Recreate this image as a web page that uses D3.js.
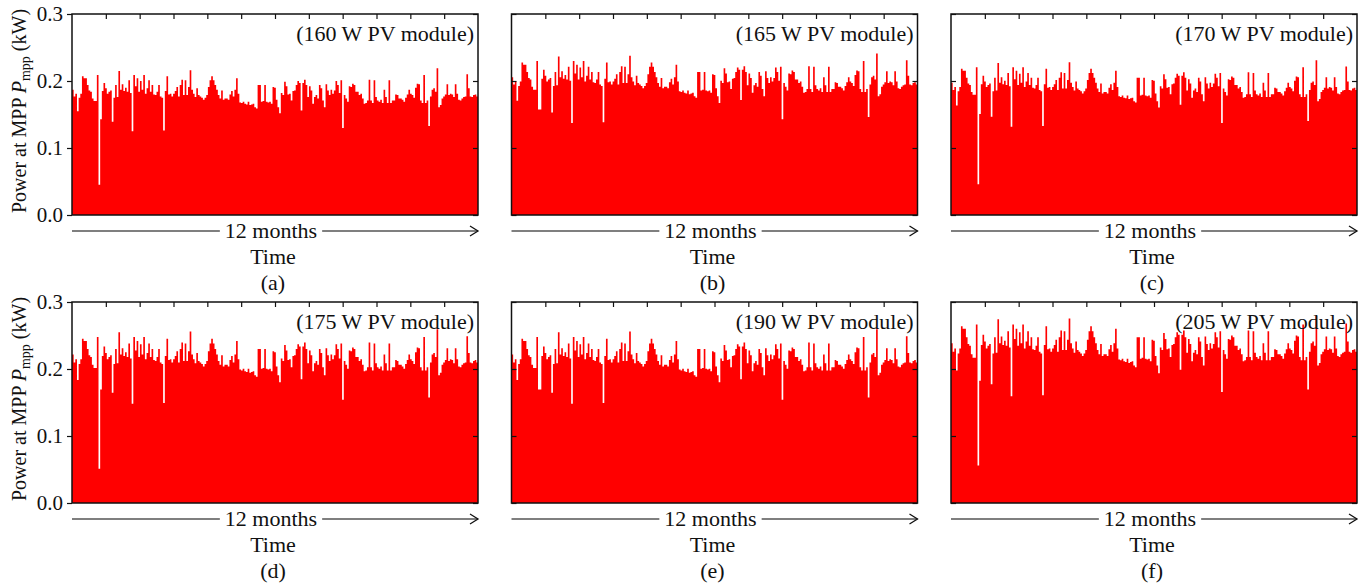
<!DOCTYPE html>
<html>
<head>
<meta charset="utf-8">
<script src="https://cdn.jsdelivr.net/npm/d3@7/dist/d3.min.js"></script>
<style>
  body { margin: 0; background: #fff; }
  text { font-family: "Liberation Serif", "Times New Roman", serif; fill: #111; }
</style>
</head>
<body>
<script>
// daily peak power of the 160 W module (W)
const pmppBase = [
  187,177,181,155,175,181,207,204,204,194,
  186,184,174,170,170,209,143,143,185,197,
  189,181,184,186,139,175,194,176,215,187,
  195,185,190,184,201,182,125,209,192,204,
  184,200,187,209,181,189,201,184,194,180,
  179,184,194,177,175,126,185,207,180,181,
  177,181,185,191,177,194,202,179,201,179,
  191,216,187,181,176,189,179,177,175,172,
  175,179,191,201,207,201,194,187,179,174,
  186,172,174,174,172,180,185,177,187,204,
  181,168,167,169,166,165,169,164,165,166,
  161,159,194,194,169,170,194,169,168,169,
  166,191,
  190,172,161,152,182,179,199,192,180,181,
  171,185,186,194,200,197,156,197,202,194,
  176,192,186,166,176,179,174,194,189,171,
  161,195,186,179,187,181,186,200,194,182,
  201,130,179,174,169,192,191,196,194,184,
  184,179,181,174,166,167,171,202,171,167,
  201,176,171,169,172,167,187,176,167,201,
  167,171,171,180,179,174,174,172,169,175,
  180,187,181,179,175,190,196,195,171,167,
  209,167,171,133,177,187,189,184,219,161,
  164,174,177,180,195,179,181,180,176,195,
  181,172,171,174,176,177,210,189,177,176,
  179,180,177
];

// level of each module relative to the 160 W one
const moduleScale = [1.0, 1.10, 1.055, 1.185, 1.185, 1.275];
// deep outage early in the year (kW), null where it does not show
const outageDay = 16;
const outageValue = [0.045, null, 0.046, 0.051, null, 0.056];

const moduleLabels = ['(160 W PV module)', '(165 W PV module)', '(170 W PV module)',
                      '(175 W PV module)', '(190 W PV module)', '(205 W PV module)'];
const panelLetters = ['(a)', '(b)', '(c)', '(d)', '(e)', '(f)'];
const yTicks = [0.0, 0.1, 0.2, 0.3];
const monthTicks = d3.range(1, 12);

const colX = [72, 511.5, 951];
const rowY = [14, 302];
const W = 406;
const H = 201;
const FONT = 22;

const svg = d3.select('body').append('svg')
  .attr('width', 1369)
  .attr('height', 587);

moduleLabels.forEach((label, i) => {
  const col = i % 3;
  const row = Math.floor(i / 3);
  const x0 = colX[col];
  const y0 = rowY[row];

  const values = pmppBase.map((w, d) => {
    if (d === outageDay && outageValue[i] !== null) return outageValue[i];
    return w / 1000 * moduleScale[i];
  });

  const x = d3.scaleLinear().domain([0, values.length]).range([x0, x0 + W]);
  const y = d3.scaleLinear().domain([0, 0.3]).range([y0 + H, y0]);

  const g = svg.append('g');

  const area = d3.area()
    .x((d, k) => x(k))
    .y0(y(0))
    .y1(d => y(d))
    .curve(d3.curveStepAfter);

  g.append('path')
    .datum(values.concat([values[values.length - 1]]))
    .attr('fill', '#ff0000')
    .attr('d', area);

  // left axis
  const left = g.append('g').attr('transform', `translate(${x0},0)`);
  if (col === 0) {
    left.call(d3.axisLeft(y).tickValues(yTicks).tickSize(5).tickFormat(d3.format('.1f')));
    left.selectAll('text').attr('font-size', 21).attr('x', -9).attr('fill', '#111');
  } else {
    left.call(d3.axisLeft(y).tickValues(yTicks).tickSize(-5).tickFormat(''));
  }
  left.select('.domain').remove();

  // right axis, ticks pointing in
  const right = g.append('g').attr('transform', `translate(${x0 + W},0)`)
    .call(d3.axisRight(y).tickValues(yTicks).tickSize(-5).tickFormat(''));
  right.select('.domain').remove();

  // month ticks along the top
  const top = g.append('g').attr('transform', `translate(0,${y0})`)
    .call(d3.axisTop(x.copy().domain([0, 12])).tickValues(monthTicks).tickSize(-5).tickFormat(''));
  top.select('.domain').remove();

  g.selectAll('.tick line').attr('stroke', '#111').attr('stroke-width', 1.2);

  g.append('rect')
    .attr('x', x0).attr('y', y0)
    .attr('width', W).attr('height', H)
    .attr('fill', 'none')
    .attr('stroke', '#111')
    .attr('stroke-width', 1.5);

  g.append('text')
    .attr('x', x0 + W - 4)
    .attr('y', y0 + 27)
    .attr('text-anchor', 'end')
    .attr('font-size', FONT)
    .text(label);

  // time arrow
  const ay = y0 + H + 16;
  const mid = x0 + W / 2 - 4;
  const monthsText = g.append('text')
    .attr('x', mid)
    .attr('y', ay + 7)
    .attr('text-anchor', 'middle')
    .attr('font-size', FONT)
    .text('12 months');
  const tw = monthsText.node().getComputedTextLength();
  g.append('line')
    .attr('x1', x0).attr('x2', mid - tw / 2 - 5)
    .attr('y1', ay).attr('y2', ay)
    .attr('stroke', '#555').attr('stroke-width', 1.5);
  g.append('line')
    .attr('x1', mid + tw / 2 + 5).attr('x2', x0 + W)
    .attr('y1', ay).attr('y2', ay)
    .attr('stroke', '#555').attr('stroke-width', 1.5);
  g.append('path')
    .attr('d', `M${x0 + W - 8},${ay - 5}L${x0 + W},${ay}L${x0 + W - 8},${ay + 5}`)
    .attr('fill', 'none')
    .attr('stroke', '#111')
    .attr('stroke-width', 1.3);

  g.append('text')
    .attr('x', mid + 2)
    .attr('y', ay + 33)
    .attr('text-anchor', 'middle')
    .attr('font-size', FONT)
    .text('Time');

  g.append('text')
    .attr('x', mid + 2)
    .attr('y', ay + 59)
    .attr('text-anchor', 'middle')
    .attr('font-size', FONT)
    .text(panelLetters[i]);

  if (col === 0) {
    const yl = svg.append('text')
      .attr('transform', `translate(26,${y0 + 97}) rotate(-90)`)
      .attr('text-anchor', 'middle')
      .attr('font-size', 20);
    yl.append('tspan').text('Power at MPP ');
    yl.append('tspan').attr('font-style', 'italic').text('P');
    yl.append('tspan').attr('font-size', 14).attr('dy', 4).text('mpp');
    yl.append('tspan').attr('dy', -4).text(' (kW)');
  }
});
</script>
</body>
</html>
